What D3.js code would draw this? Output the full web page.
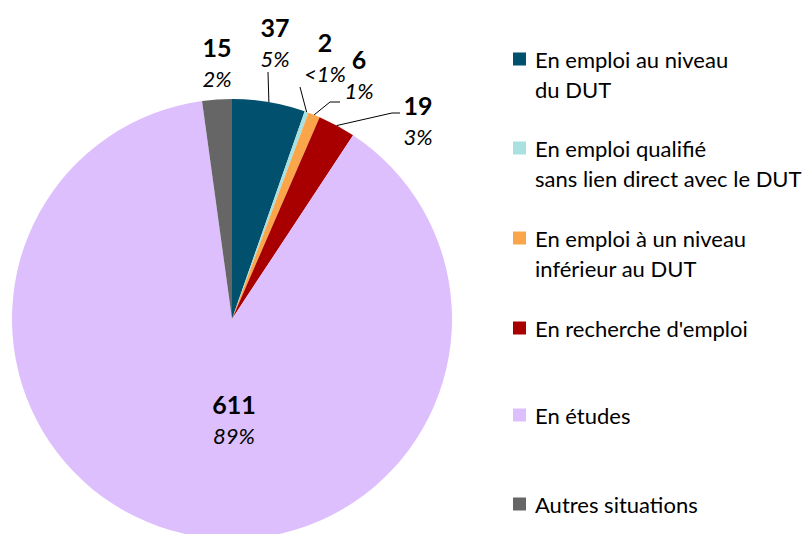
<!DOCTYPE html>
<html>
<head>
<meta charset="utf-8">
<script src="https://cdn.jsdelivr.net/npm/d3@7"></script>
<style>
body { margin: 0; background: #fff; }
text { font-family: Lato, "Open Sans", sans-serif; fill: #000; }
</style>
</head>
<body>
<svg width="808" height="534"></svg>
<script>
// Données
var categories = ["En emploi au niveau du DUT", "En emploi qualifié sans lien direct avec le DUT",
  "En emploi à un niveau inférieur au DUT", "En recherche d'emploi", "En études", "Autres situations"];
var legendLines = [["En emploi au niveau", "du DUT"], ["En emploi qualifié", "sans lien direct avec le DUT"],
  ["En emploi à un niveau", "inférieur au DUT"], ["En recherche d'emploi"], ["En études"], ["Autres situations"]];
var values = [37, 2, 6, 19, 611, 15];
var percents = ["5%", "<1%", "1%", "3%", "89%", "2%"];
var colors = ["#00506E", "#A9E1E1", "#FBA54A", "#A80000", "#DCBFFC", "#666666"];

// mise en page des étiquettes (x, y relatifs au centre) + coude éventuel de la ligne de rappel
var labelPos = [
  {x: 43, y: -292, line: [[36, -247]]},
  {x: 93, y: -277, line: [[68, -232]]},
  {x: 127, y: -260, line: [[98, -217], [108, -217]]},
  {x: 186, y: -214, line: [[160, -206], [168, -206]]},
  {x: 2, y: 85, line: null},
  {x: -15, y: -272, line: null}
];

var cx = 232, cy = 319, r = 220;
var svg = d3.select('svg');
var g = svg.append('g').attr('transform', 'translate(' + cx + ',' + cy + ')');

var pie = d3.pie().sort(null).value(d => d)(values);
var arc = d3.arc().innerRadius(0).outerRadius(r);
var edge = d3.arc().innerRadius(r).outerRadius(r);

g.selectAll('path.slice')
  .data(pie)
  .enter()
  .append('path')
  .attr('class', 'slice')
  .attr('d', arc)
  .attr('fill', (d, i) => colors[i]);

// lignes de rappel
g.selectAll('path.leader')
  .data(pie.filter((d, i) => labelPos[i].line))
  .enter()
  .append('path')
  .attr('class', 'leader')
  .attr('fill', 'none')
  .attr('stroke', '#000')
  .attr('stroke-width', 1)
  .attr('d', d => d3.line()([edge.centroid(d)].concat(labelPos[d.index].line)));

// étiquettes
var lab = g.selectAll('g.lab')
  .data(pie)
  .enter()
  .append('g')
  .attr('class', 'lab')
  .attr('transform', d => 'translate(' + labelPos[d.index].x + ',' + labelPos[d.index].y + ')');

lab.append('text')
  .attr('text-anchor', 'middle')
  .attr('dominant-baseline', 'central')
  .attr('font-size', 25)
  .attr('font-weight', 'bold')
  .text(d => d.data);

lab.append('text')
  .attr('text-anchor', 'middle')
  .attr('dominant-baseline', 'central')
  .attr('y', 31)
  .attr('font-size', 22)
  .attr('font-style', 'italic')
  .text(d => percents[d.index]);

// légende
var legendY = [59, 148, 238, 328, 415, 504];
var leg = svg.selectAll('g.leg')
  .data(categories)
  .enter()
  .append('g')
  .attr('class', 'leg')
  .attr('transform', (d, i) => 'translate(513,' + legendY[i] + ')');

leg.append('rect')
  .attr('x', 0).attr('y', -6.5)
  .attr('width', 13).attr('height', 13)
  .attr('fill', (d, i) => colors[i]);

leg.each(function(d, i) {
  d3.select(this).selectAll('text')
    .data(legendLines[i])
    .enter()
    .append('text')
    .attr('x', 22)
    .attr('y', (t, j) => j * 30)
    .attr('dominant-baseline', 'central')
    .attr('font-size', 22)
    .text(t => t);
});
</script>
</body>
</html>
